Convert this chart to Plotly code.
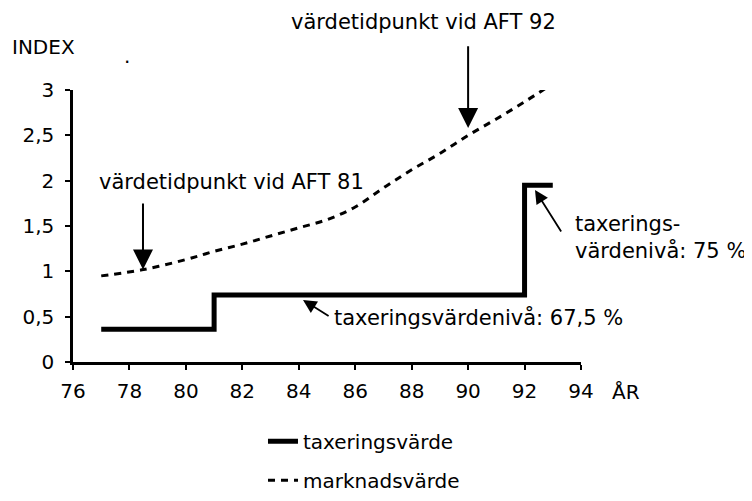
import plotly.graph_objects as go

# Data
tax_years = [77, 81, 92, 93]
tax_values = [0.36, 0.74, 1.95, 1.95]

market_years = [77, 78.5, 80, 81, 82, 83, 84, 85, 86, 87, 88, 89, 90, 91, 92, 93]
market_values = [0.95, 1.02, 1.13, 1.22, 1.30, 1.39, 1.48, 1.57, 1.71, 1.92, 2.12, 2.30, 2.50, 2.68, 2.87, 3.07]

x_ticks = [76, 78, 80, 82, 84, 86, 88, 90, 92, 94]
y_ticks = [0, 0.5, 1, 1.5, 2, 2.5, 3]

FONT = "DejaVu Sans"
FS_TICK = 20
FS_TEXT = 21
FS_LEG = 20

fig = go.Figure()
fig.add_trace(go.Scatter(x=tax_years, y=tax_values, mode="lines", line_shape="hv",
                         line=dict(color="black", width=5), name="taxeringsvärde",
                         legendgroup="a"))
fig.add_trace(go.Scatter(x=market_years, y=market_values, mode="lines", line_shape="spline",
                         line=dict(color="black", width=3, dash="7px,6px"), name="marknadsvärde",
                         legendgroup="b"))

tf = dict(size=FS_TEXT)
anns = []
# text labels
anns.append(dict(x=81.6, y=1.985, xref="x", yref="y", text="värdetidpunkt vid AFT 81", showarrow=False,
                 xanchor="center", yanchor="middle", font=tf))
anns.append(dict(x=0.689, y=1.25, xref="paper", yref="paper", text="värdetidpunkt vid AFT 92",
                 showarrow=False, xanchor="center", yanchor="middle", font=tf))
anns.append(dict(x=85.18, y=0.496, xref="x", yref="y", text="taxeringsvärdenivå: 67,5 %", showarrow=False,
                 xanchor="left", yanchor="middle", font=tf))
anns.append(dict(x=93.72, y=1.373, xref="x", yref="y", text="taxerings-<br>värdenivå: 75 %", showarrow=False,
                 xanchor="left", yanchor="middle", align="left", font=tf))
# arrows
big_arrow = dict(showarrow=True, arrowhead=2, arrowsize=2.0, arrowwidth=2, arrowcolor="black",
                 text="", xref="x", yref="y", axref="x", ayref="y")
small_arrow = dict(showarrow=True, arrowhead=2, arrowsize=1.5, arrowwidth=1.8, arrowcolor="black",
                   text="", xref="x", yref="y", axref="x", ayref="y")
anns.append(dict(x=78.48, y=1.02, ax=78.48, ay=1.765, **big_arrow))
anns.append(dict(x=90.0, y=2.58, ax=90.0, ay=3.50, **big_arrow))
anns.append(dict(x=84.15, y=0.684, ax=85.11, ay=0.496, **small_arrow))
anns.append(dict(x=92.37, y=1.897, ax=93.33, ay=1.423, **small_arrow))
# axis titles and stray dot
anns.append(dict(x=-0.124, y=1.158, xref="paper", yref="paper", text="INDEX", showarrow=False,
                 xanchor="left", yanchor="middle", font=dict(size=FS_TICK)))
anns.append(dict(x=1.057, y=-0.11, xref="paper", yref="paper", text="ÅR", showarrow=False,
                 xanchor="left", yanchor="middle", font=dict(size=FS_TICK)))
anns.append(dict(x=0.106, y=1.125, xref="paper", yref="paper", text=".", showarrow=False,
                 xanchor="center", yanchor="middle", font=dict(size=FS_TICK)))

fig.update_layout(
    width=744, height=493,
    margin=dict(l=65, r=171, t=82, b=139, autoexpand=False),
    paper_bgcolor="white", plot_bgcolor="white",
    font=dict(family=FONT, size=FS_TICK, color="black"),
    separators=", ",
    annotations=anns,
    showlegend=True,
    legend=dict(x=0.374, y=-0.22, xanchor="left", yanchor="top", bgcolor="rgba(0,0,0,0)",
                font=dict(size=FS_LEG), tracegroupgap=10, itemwidth=30),
    xaxis=dict(range=[76, 94], tickvals=x_ticks, ticktext=[str(v) for v in x_ticks],
               showgrid=False, zeroline=False, showline=True, linecolor="black", linewidth=2.5,
               ticks="outside", ticklen=5, tickwidth=2, tickcolor="black", ticklabelstandoff=4),
    yaxis=dict(range=[0, 3], tickvals=y_ticks, showgrid=False, zeroline=False, showline=True,
               linecolor="black", linewidth=2.5, ticks="outside", ticklen=5, tickwidth=2,
               tickcolor="black", ticklabelstandoff=7),
)

fig.write_html("out.html")
